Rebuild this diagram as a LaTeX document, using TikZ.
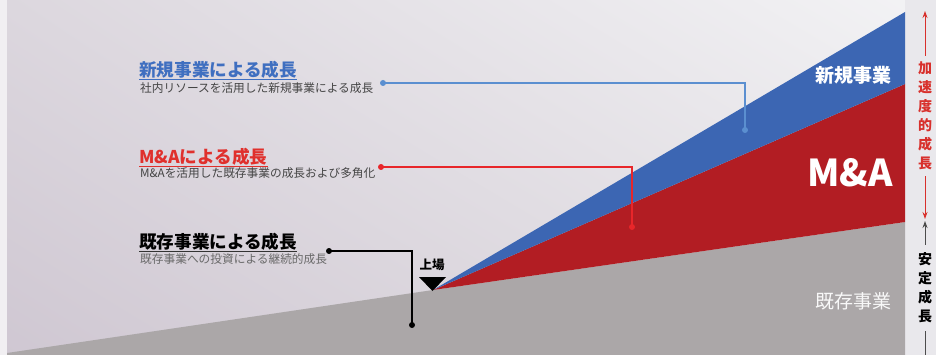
\documentclass[tikz,border=0pt]{standalone}
\usepackage{fontspec}
\setmainfont{Noto Sans CJK JP}
\usetikzlibrary{arrows.meta,shadings}
\definecolor{bgll}{HTML}{CFC7D2}
\definecolor{bgul}{HTML}{DCD7DE}
\definecolor{bgur}{HTML}{F3F3F5}
\definecolor{bglr}{HTML}{E4E1E5}
\definecolor{strip}{HTML}{E9E8EC}
\definecolor{stone}{HTML}{ABA7A8}
\definecolor{mared}{HTML}{B21D23}
\definecolor{newblue}{HTML}{3C66B3}
\definecolor{ttlblue}{HTML}{3F6FC0}
\definecolor{ttlred}{HTML}{E0302C}
\definecolor{lnblue}{HTML}{5B8FD0}
\definecolor{lnred}{HTML}{E8262A}
\definecolor{subgray}{HTML}{444444}
\definecolor{accred}{HTML}{D8302C}
\tikzset{
  ttl/.style={anchor=west, inner sep=0pt, font=\fontsize{17.6}{17.6}\selectfont\bfseries},
  sub/.style={anchor=west, inner sep=0pt, text=subgray, font=\fontsize{11.7}{11.7}\selectfont},
  dotnode/.style={circle, fill, inner sep=0pt, minimum size=6pt},
  conn/.style={line width=1.6pt},
  area/.style={font=\fontsize{19}{19}\selectfont\bfseries, text=white, inner sep=0pt},
  vtext/.style={align=center, inner sep=0pt, font=\fontsize{14}{19}\selectfont\bfseries},
  vline/.style={line width=1pt},
  tip/.style={-{Stealth[length=7pt,width=5pt]}},
}
\begin{document}
\begin{tikzpicture}[x=1pt,y=-1pt]
\useasboundingbox (0,0) rectangle (936,355);
% background
\shade[upper left=bgul, upper right=bgur, lower left=bgll, lower right=bglr] (0,0) rectangle (936,355);
\fill[white!60!bgul] (0,0) rectangle (7,355);
\fill[strip] (905,0) rectangle (936,355);
% areas
\coordinate (apex) at (433,290);
\fill[stone] (7,355) -- (7,353) -- (apex) -- (905,222) -- (905,355) -- cycle;
\fill[mared] (apex) -- (905,84) -- (905,222) -- cycle;
\fill[newblue] (apex) -- (905,12) -- (905,84) -- cycle;
% area labels
\node[area] (lnew) at (853,75) {新規事業};
\node[area, font=\fontsize{37}{37}\selectfont\bfseries] (lma) at (850,173) {M\&A};
\node[area, font=\fontsize{19}{19}\selectfont, text=white!92!stone] (lold) at (853,301) {既存事業};
% titles
\node[ttl, text=ttlblue] (t1) at (139,70) {新規事業による成長};
\draw[ttlblue, line width=1pt] ([yshift=-2.5pt]t1.base west) -- ([yshift=-2.5pt]t1.base east);
\node[sub] (s1) at (140,88) {社内リソースを活用した新規事業による成長};
\node[ttl, text=ttlred] (t2) at (139,157) {M\&Aによる成長};
\draw[ttlred, line width=1pt] ([yshift=-2.5pt]t2.base west) -- ([yshift=-2.5pt]t2.base east);
\node[sub] (s2) at (140,173) {M\&Aを活用した既存事業の成長および多角化};
\node[ttl, text=black] (t3) at (139,242) {既存事業による成長};
\draw[black!80, line width=1pt] ([yshift=-2.5pt]t3.base west) -- ([yshift=-2.5pt]t3.base east);
\node[sub, text=subgray!80] (s3) at (140,259) {既存事業への投資による継続的成長};
% connectors
\node[dotnode, lnblue] (d1a) at (383,83) {};
\node[dotnode, lnblue] (d1b) at (745,130) {};
\draw[conn, lnblue] (d1a.center) -| (d1b.center);
\node[dotnode, lnred] (d2a) at (381,167) {};
\node[dotnode, lnred] (d2b) at (632,227) {};
\draw[conn, lnred] (d2a.center) -| (d2b.center);
\node[dotnode, black] (d3a) at (329,251) {};
\node[dotnode, black] (d3b) at (412,325) {};
\draw[conn, black] (d3a.center) -| (d3b.center);
% listing marker
\node[inner sep=0pt, font=\fontsize{12.5}{12.5}\selectfont\bfseries] (ipo) at (432,265) {上場};
\fill[black] (419,277) -- (446,277) -- (432.5,291) -- cycle;
% right vertical labels
\node[vtext, text=accred] (acc) at (925,116) {加\\速\\度\\的\\成\\長};
\node[vtext, text=black] (stb) at (925,288) {安\\定\\成\\長};
\coordinate (rtop) at (925,11);
\coordinate (rbot) at (925,219);
\coordinate (btop) at (925,221);
\coordinate (bbot) at (925,355);
\draw[vline, accred, tip] ([yshift=6pt]acc.north) -- (rtop);
\draw[vline, accred, tip] ([yshift=-6pt]acc.south) -- (rbot);
\draw[vline, black!70, tip] ([yshift=8pt]stb.north) -- (btop);
\draw[vline, black!70] ([yshift=-8pt]stb.south) -- (bbot);
\end{tikzpicture}
\end{document}
